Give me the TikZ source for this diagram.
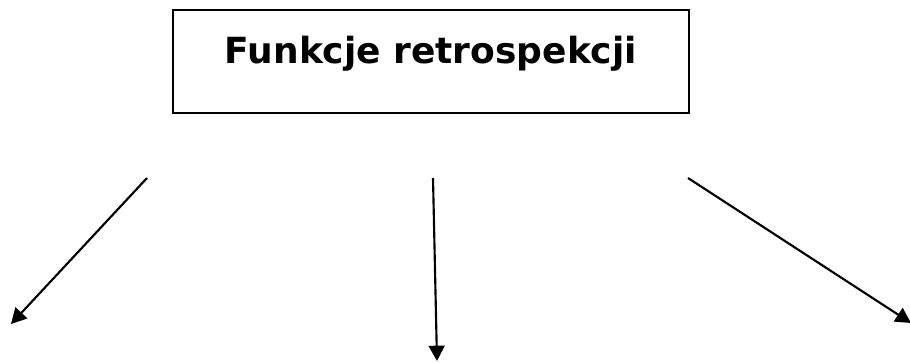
\documentclass[tikz,border=0pt]{standalone}
\usepackage{fontspec}
\setmainfont{DejaVu Sans}
\usetikzlibrary{arrows.meta}
\begin{document}
\begin{tikzpicture}[x=0.75pt,y=-0.75pt,
  titlebox/.style={draw, line width=1.1pt, minimum width=387pt, minimum height=77.25pt, inner sep=0pt},
  titletext/.style={font=\bfseries\fontsize{27}{32}\selectfont, anchor=base, inner sep=0pt},
  arr/.style={line width=1.6pt, -{Triangle[length=11.5pt,width=12pt]}}]
\useasboundingbox (0,0) rectangle (910,362);
\clip (0,0) rectangle (910,362);
\node[titlebox] (box) at (431,61.5) {};
\node[titletext] (title) at (431,63) {Funkcje retrospekcji};
\coordinate (s1) at (147,178);
\coordinate (e1) at (11,324);
\coordinate (s2) at (433,178);
\coordinate (e2) at (437,361);
\coordinate (s3) at (688,178);
\coordinate (e3) at (911,323);
\draw[arr] (s1) -- (e1);
\draw[arr] (s2) -- (e2);
\draw[arr] (s3) -- (e3);
\end{tikzpicture}
\end{document}
